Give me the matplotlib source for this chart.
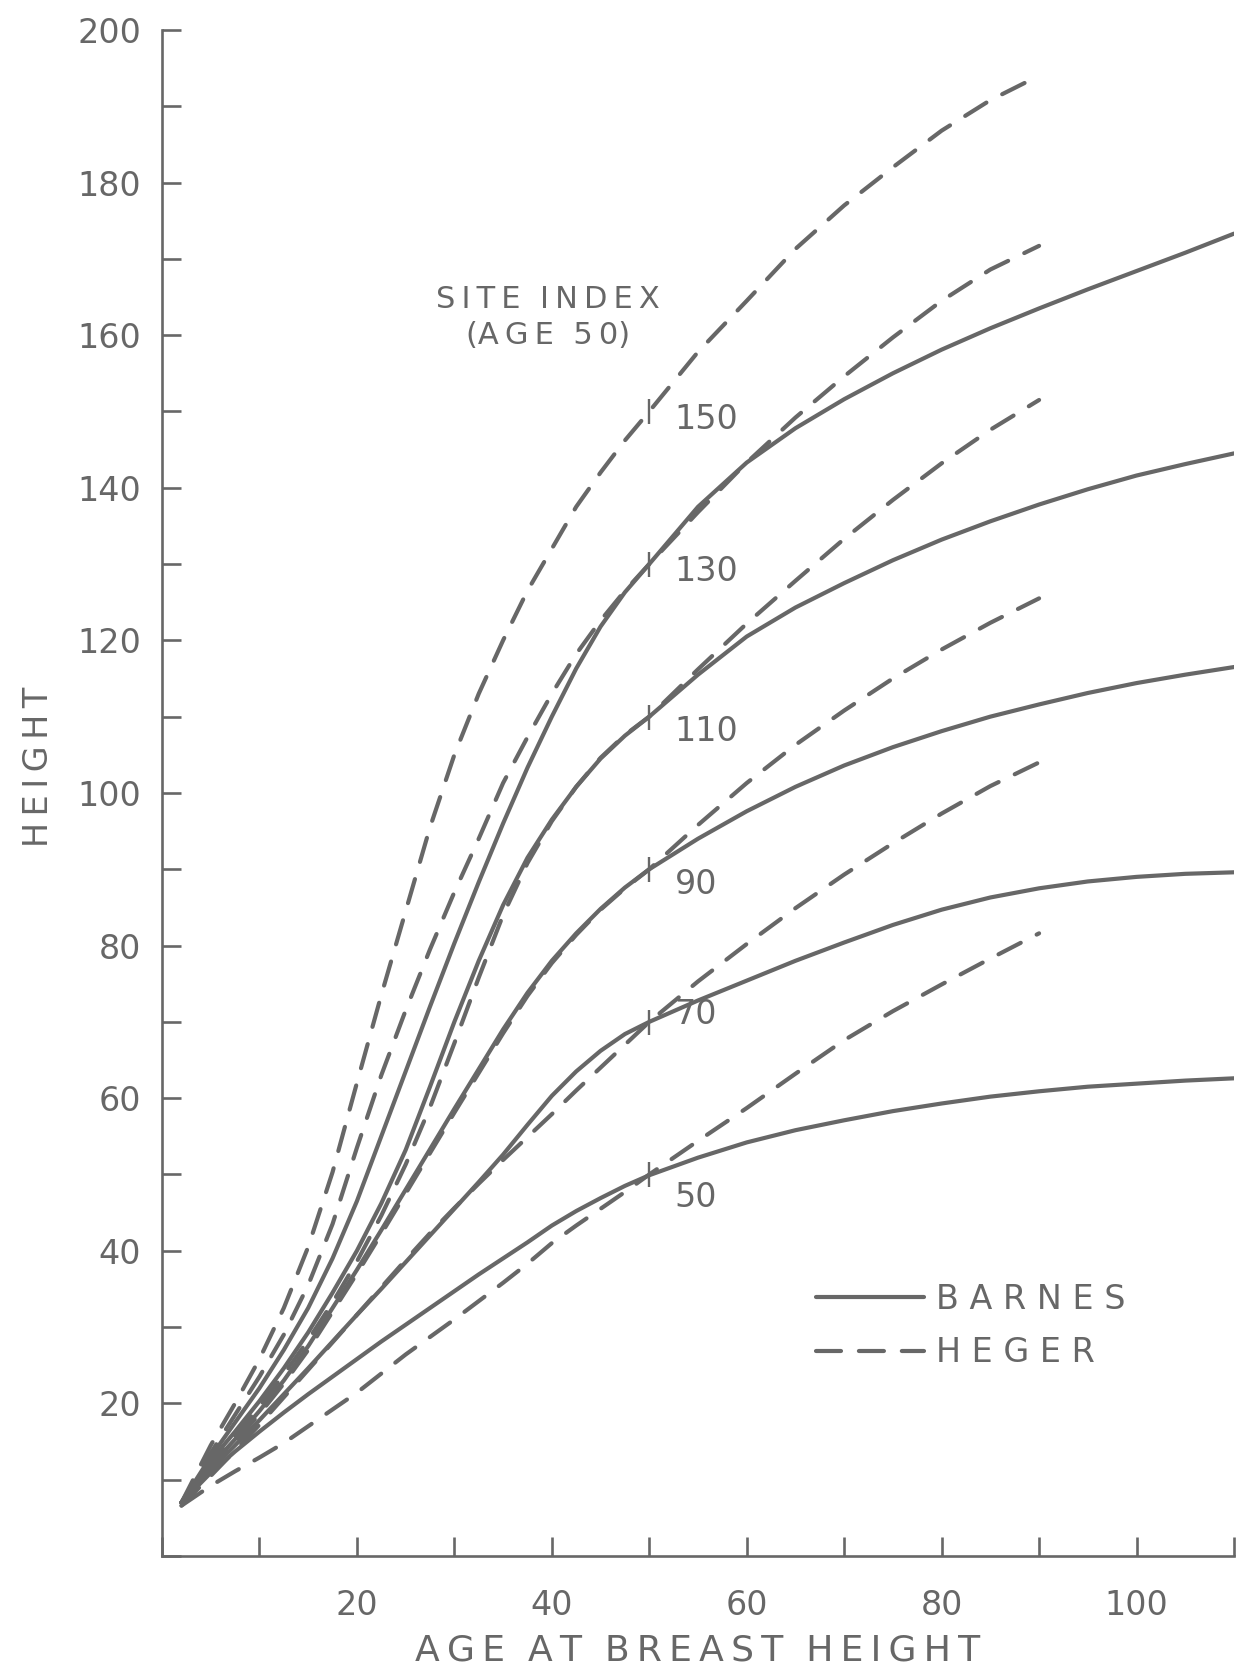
import matplotlib
matplotlib.use("Agg")
import matplotlib.pyplot as plt
from matplotlib.ticker import MultipleLocator

plt.rcParams['font.family'] = ['DejaVu Sans']

ink = '#676767'
ts = '\u2009'  # thin space, used to open up the lettering

# site index (height at age 50)
site_index = [50, 70, 90, 110, 130, 150]

# Barnes curves (solid)
age_barnes = [2, 5, 7.5, 10, 12.5, 15, 17.5, 20, 22.5, 25, 27.5, 30, 32.5, 35, 37.5, 40,
              42.5, 45, 47.5, 50, 55, 60, 65, 70, 75, 80, 85, 90, 95, 100, 105, 110]
barnes_50 = [7, 10.9, 13.7, 16.3, 18.8, 21.2, 23.5, 25.8, 28.1, 30.3, 32.5, 34.7, 36.9, 39,
             41.1, 43.3, 45.2, 46.9, 48.5, 49.9, 52.2, 54.2, 55.8, 57.1, 58.3, 59.3, 60.2,
             60.9, 61.5, 61.9, 62.3, 62.6]
barnes_70 = [7, 11.3, 14.5, 17.8, 21.2, 24.6, 28.1, 31.6, 35, 38.5, 42, 45.5, 49, 52.6,
             56.5, 60.3, 63.5, 66.2, 68.4, 70, 72.8, 75.4, 78, 80.4, 82.7, 84.7, 86.3, 87.5,
             88.4, 89, 89.4, 89.6]
barnes_90 = [7, 11.8, 15.3, 19, 23, 27.5, 32.5, 37.5, 42.7, 48, 53.3, 58.6, 63.8, 69, 73.8,
             78, 81.6, 84.8, 87.6, 90, 94, 97.6, 100.8, 103.6, 106, 108.1, 110, 111.6, 113.1,
             114.4, 115.5, 116.5]
barnes_110 = [7, 12.5, 16.3, 20.3, 24.6, 29.3, 34.5, 40, 46.2, 53.2, 61.5, 70, 78, 85.3, 91.5,
              96.5, 100.8, 104.5, 107.5, 110, 115.5, 120.5, 124.3, 127.5, 130.5, 133.2, 135.6,
              137.8, 139.8, 141.6, 143.1, 144.5]
barnes_130 = [7, 13, 17.5, 22, 27, 32.5, 39, 46.5, 55, 63.5, 72, 80.3, 88.3, 96, 103.3,
              110, 116.3, 121.8, 126.3, 130, 137.5, 143.3, 147.8, 151.6, 155, 158.1, 160.9,
              163.5, 166, 168.4, 170.8, 173.3]

# Heger curves (dashed)
age_heger = [2, 5, 7.5, 10, 12.5, 15, 17.5, 20, 22.5, 25, 27.5, 30, 32.5, 35, 37.5, 40,
             42.5, 45, 47.5, 50, 55, 60, 65, 70, 75, 80, 85, 90]
heger_50 = [6.6, 9.2, 11.1, 12.9, 14.8, 17, 19.2, 21.4, 23.9, 26.4, 28.7, 31, 33.4, 35.8,
            38.3, 41, 43.3, 45.5, 47.7, 50, 54.4, 58.7, 63.2, 67.6, 71.4, 74.9, 78.3, 81.6]
heger_70 = [6.6, 10.5, 13.8, 17.2, 20.8, 24.4, 28, 31.6, 35.2, 38.8, 42.3, 45.6, 48.8, 51.9,
            54.9, 57.9, 61, 64, 67, 70, 75.3, 80.2, 84.9, 89.3, 93.4, 97.3, 100.9, 104]
heger_90 = [7, 11.5, 15, 18.6, 22.6, 27, 32, 37, 42.2, 47.5, 52.8, 58.1, 63.3, 68.5, 73.4,
            77.7, 81.4, 84.7, 87.5, 90, 95.8, 101.3, 106.3, 110.8, 115, 118.8, 122.3, 125.5]
heger_110 = [7, 12, 15.8, 19.6, 23.8, 28.3, 33.2, 38.6, 44.6, 51.3, 58.8, 67.2, 75.8, 84,
             90.8, 96.3, 100.8, 104.6, 107.6, 110, 116.2, 122.2, 127.8, 133.3, 138.4, 143.2,
             147.6, 151.5]
heger_130 = [7, 13.5, 18.5, 23.5, 29, 35.5, 43.5, 53.5, 63, 71.5, 79.5, 87, 94, 101.3, 107.3,
             113, 118.2, 122.6, 126.5, 130, 136.8, 143.3, 149.2, 154.6, 159.7, 164.5, 168.6,
             171.7]
heger_150 = [7, 14.5, 20, 25.8, 32.5, 40.5, 50.3, 62, 73.5, 84.5, 95.5, 105, 113, 120, 126.5,
             132, 137.5, 142, 146.2, 150, 157.8, 164.5, 171.3, 177, 182, 186.8, 190.8, 194]

barnes = [barnes_50, barnes_70, barnes_90, barnes_110, barnes_130]
heger = [heger_50, heger_70, heger_90, heger_110, heger_130, heger_150]

# nudges for the site index labels (height units)
label_dy = [-3, 1, -2, -2, -1, -1]


def spaced(word):
    return ts.join(word)


fig = plt.figure(figsize=(12.51, 16.72), dpi=100)
ax = fig.add_axes([0.1295, 0.0694, 0.8569, 0.9127])

for i, h in enumerate(barnes):
    ax.plot(age_barnes, h, color=ink, lw=3.0, solid_capstyle='round',
            solid_joinstyle='round', label='B A R N E S' if i == 0 else None)
for i, h in enumerate(heger):
    ax.plot(age_heger, h, color=ink, lw=3.0, dashes=(6, 4.3),
            dash_capstyle='round', label='H E G E R' if i == 0 else None)

# small marks where each curve crosses age 50
ax.plot([50] * len(site_index), site_index, linestyle='none', marker='|',
        ms=18, mew=1.7, color=ink)
for si, dy in zip(site_index, label_dy):
    ax.text(52.6, si + dy, str(si), fontsize=24, color=ink, ha='left', va='center')

ax.text(39.6, 162.3, spaced('SITE') + '  ' + spaced('INDEX') + '\n(' + spaced('AGE') +
        '  ' + spaced('50') + ')', fontsize=22, color=ink,
        ha='center', va='center', linespacing=1.3)

ax.set_xlim(0, 110)
ax.set_ylim(0, 200)
ax.xaxis.set_major_locator(MultipleLocator(20))
ax.xaxis.set_minor_locator(MultipleLocator(10))
ax.yaxis.set_major_locator(MultipleLocator(20))
ax.yaxis.set_minor_locator(MultipleLocator(10))
ax.xaxis.set_major_formatter(lambda v, p: '' if v == 0 else f'{v:.0f}')
ax.yaxis.set_major_formatter(lambda v, p: '' if v == 0 else f'{v:.0f}')

for side in ['top', 'right']:
    ax.spines[side].set_visible(False)
for side in ['left', 'bottom']:
    ax.spines[side].set_color(ink)
    ax.spines[side].set_linewidth(1.9)

ax.tick_params(which='both', direction='in', length=14, width=1.9, color=ink,
               labelcolor=ink, labelsize=24)
ax.tick_params(axis='y', which='both', pad=15)
ax.tick_params(axis='x', which='both', pad=24)

ax.set_xlabel('  '.join(spaced(w) for w in ['AGE', 'AT', 'BREAST', 'HEIGHT']),
              fontsize=26, color=ink)
ax.xaxis.set_label_coords(0.5, -0.051)
ax.set_ylabel(spaced('HEIGHT'), fontsize=24, color=ink)
ax.yaxis.set_label_coords(-0.1, 0.517)

ax.legend(loc='upper left', bbox_to_anchor=(0.61, 0.179), frameon=False,
          fontsize=24, handlelength=3.25, handletextpad=0.35, labelspacing=0.62,
          borderpad=0, borderaxespad=0, labelcolor=ink)

fig.savefig('out.png', dpi=100, facecolor='white')
